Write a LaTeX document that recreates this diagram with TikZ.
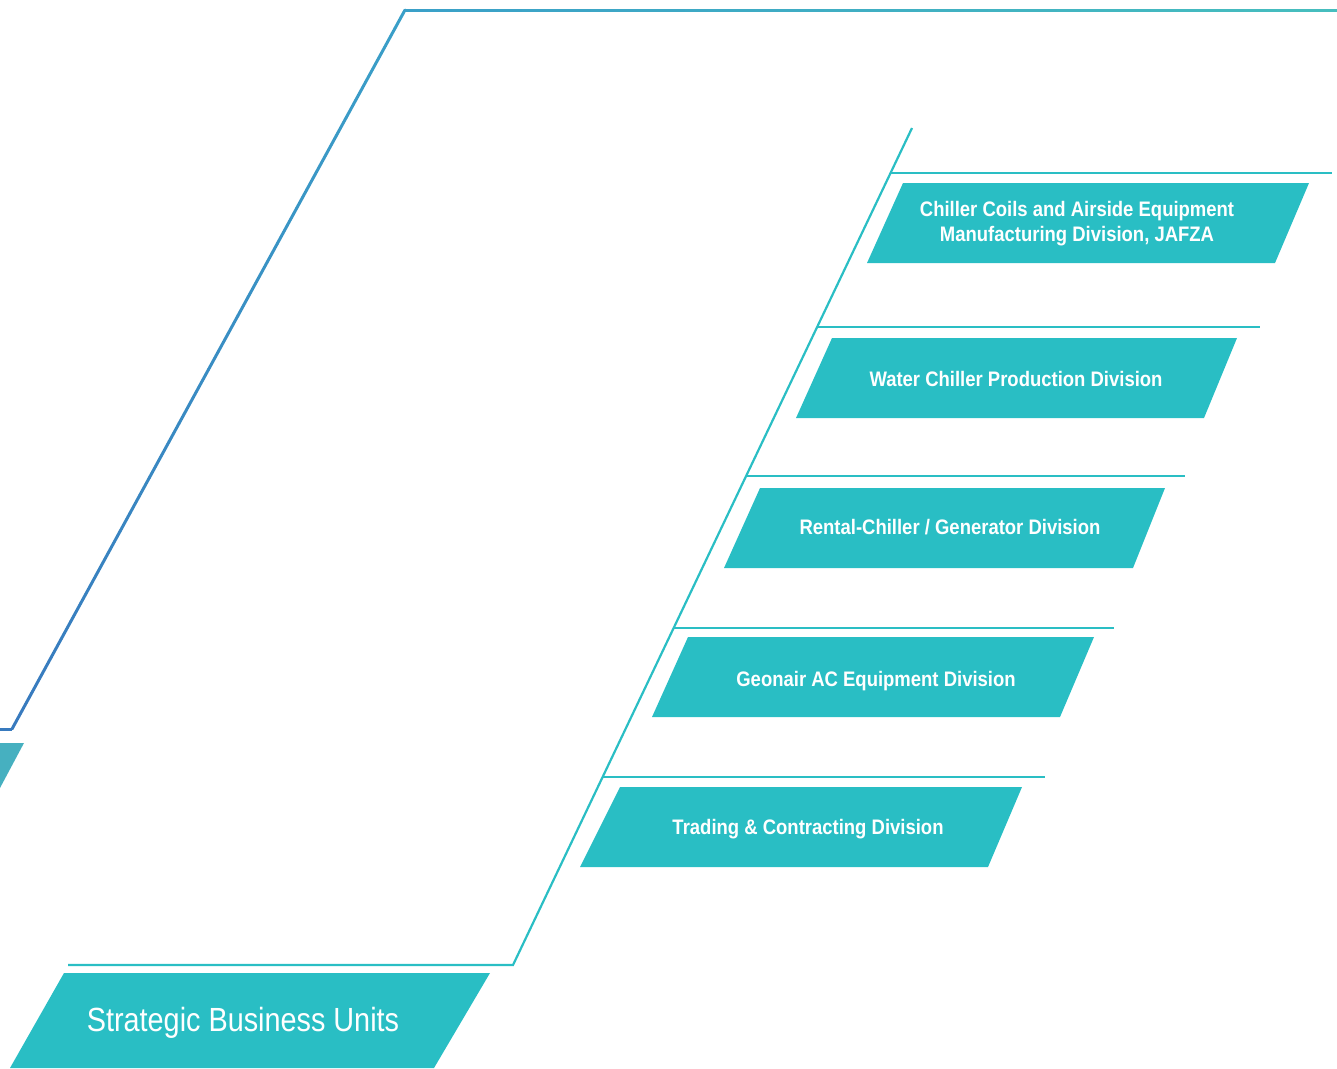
\documentclass[tikz,border=0pt]{standalone}
\usepackage{fontspec}
\usetikzlibrary{calc}
\newfontfamily\condfont[FakeStretch=0.88]{Liberation Sans}
\newfontfamily\titlefont[FakeStretch=0.86]{Liberation Sans}
\definecolor{boxteal}{RGB}{41,190,196}
\definecolor{lineteal}{RGB}{42,190,196}
\definecolor{outA}{RGB}{56,122,190}
\definecolor{outM}{RGB}{58,160,200}
\definecolor{outB}{RGB}{70,190,190}
\definecolor{fragc}{RGB}{70,176,192}
\tikzset{
  outerline/.style={line width=3pt, line cap=round},
  innerline/.style={draw=lineteal, line width=2.2pt},
  divbox/.style={fill=boxteal},
  divlabel/.style={text=white, align=center, font=\condfont\bfseries\fontsize{21}{25}\selectfont},
  titlelabel/.style={text=white, font=\titlefont\fontsize{33.5}{38}\selectfont}
}
\begin{document}
\begin{tikzpicture}[x=1pt,y=-1pt]
\useasboundingbox (0,0) rectangle (1337,1068);
% outer frame line (gradient blue -> teal)
\coordinate (o0) at (0,729);
\coordinate (d0) at (12,729);
\coordinate (d1) at (405,10);
\coordinate (d2) at (1337,10);
\draw[outerline, color=outA, line cap=butt] (o0) -- (d0);
\foreach \i in {0,...,39}{
  \pgfmathsetmacro\pa{\i/40}
  \pgfmathsetmacro\pb{(\i+1)/40}
  \pgfmathtruncatemacro\pc{100*(\i+0.5)/40}
  \draw[outerline, color=outM!\pc!outA] ($(d0)!\pa!(d1)$) -- ($(d0)!\pb!(d1)$);
}
\foreach \i in {0,...,39}{
  \pgfmathsetmacro\pa{\i/40}
  \pgfmathsetmacro\pb{(\i+1)/40}
  \pgfmathtruncatemacro\pc{100*(\i+0.5)/40}
  \draw[outerline, color=outB!\pc!outM, line cap=butt] ($(d1)!\pa!(d2)$) -- ($(d1)!\pb!(d2)$);
}
% fragment at left edge
\fill[fragc] (0,743) -- (24,743) -- (0,788) -- cycle;
% inner spine
\coordinate (s0) at (912,128);
\coordinate (s1) at (513,965);
\coordinate (s2) at (68,965);
\draw[innerline] (s0) -- (s1) -- (s2);
% branches
\coordinate (b1) at (890.5,173);  \coordinate (e1) at (1332,173);
\coordinate (b2) at (817.1,327);  \coordinate (e2) at (1260,327);
\coordinate (b3) at (746.1,476);  \coordinate (e3) at (1185,476);
\coordinate (b4) at (673.6,628);  \coordinate (e4) at (1114,628);
\coordinate (b5) at (602.5,777);  \coordinate (e5) at (1045,777);
\foreach \k in {1,...,5}{ \draw[innerline] (b\k) -- (e\k); }
% division boxes
\fill[divbox] (903,183) -- (1309,183) -- (1275,263) -- (867,263) -- cycle;
\node[divlabel] (n1) at (1077,224) {Chiller Coils and Airside Equipment\\Manufacturing Division, JAFZA};
\fill[divbox] (832,338) -- (1237,338) -- (1204,418) -- (796,418) -- cycle;
\node[divlabel] (n2) at (1016,379) {Water Chiller Production Division};
\fill[divbox] (760,488) -- (1165,488) -- (1133,568) -- (724,568) -- cycle;
\node[divlabel] (n3) at (950,527) {Rental-Chiller / Generator Division};
\fill[divbox] (688,637) -- (1094,637) -- (1060,717) -- (652,717) -- cycle;
\node[divlabel] (n4) at (876,681) {Geonair AC Equipment Division};
\fill[divbox] (620,787) -- (1022,787) -- (988,867) -- (580,867) -- cycle;
\node[divlabel] (n5) at (808,829) {Trading \& Contracting Division};
% title box
\fill[divbox] (64,973) -- (490,973) -- (434,1068) -- (10,1068) -- cycle;
\node[titlelabel] (title) at (243,1023) {Strategic Business Units};
\end{tikzpicture}
\end{document}
